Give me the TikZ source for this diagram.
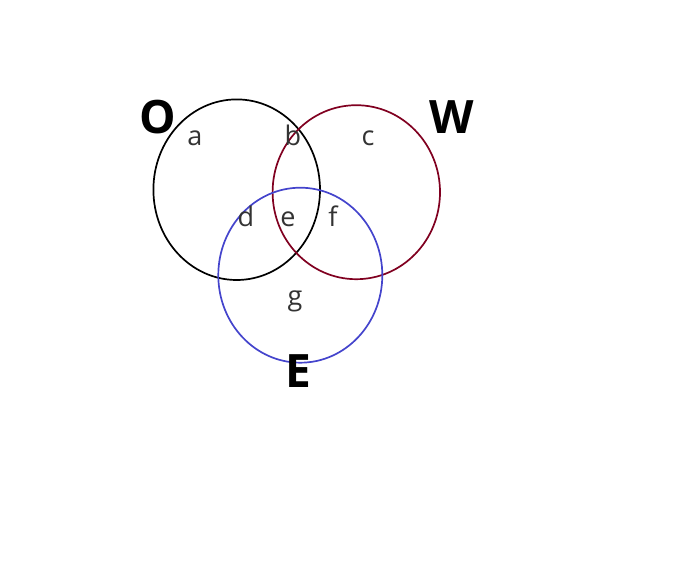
\documentclass[tikz,border=0pt]{standalone}
\usepackage{fontspec}
\setmainfont{Open Sans}
\usepackage{xcolor}
\usepackage{tikz}
\usetikzlibrary{positioning}

\definecolor{setred}{HTML}{800020}
\definecolor{setblue}{HTML}{4444CC}
\definecolor{labelgray}{HTML}{333333}

\begin{document}
\begin{tikzpicture}[x=1pt, y=-1pt,
    ring/.style={line width=1.7pt},
    region/.style={anchor=base, inner sep=0pt, text=labelgray,
                   font=\fontsize{27}{32}\selectfont},
    setname/.style={anchor=base, inner sep=0pt,
                    font=\fontsize{46}{54}\selectfont\bfseries},
]
\useasboundingbox (0,0) rectangle (696,564);

% --- Sets ---
\draw[ring, black] (236.7,189.7) ellipse [x radius=83.3, y radius=90.3];
\draw[ring, setred] (356.3,192.2) ellipse [x radius=83.7, y radius=87];
\draw[ring, setblue] (300.3,275.2) ellipse [x radius=82, y radius=87.5];

% --- Set names ---
\node[setname] (nameO) at (158,134) {O};
\node[setname] (nameW) at (452,134) {W};
\node[setname] (nameE) at (298,387) {E};

% --- Regions ---
\node[region] (ra) at (195,146) {a};
\node[region] (rb) at (293,146) {b};
\node[region] (rc) at (368,146) {c};
\node[region] (rd) at (246,226) {d};
\node[region] (re) at (288,226) {e};
\node[region] (rf) at (333,226) {f};
\node[region] (rg) at (295,305) {g};
\end{tikzpicture}
\end{document}
